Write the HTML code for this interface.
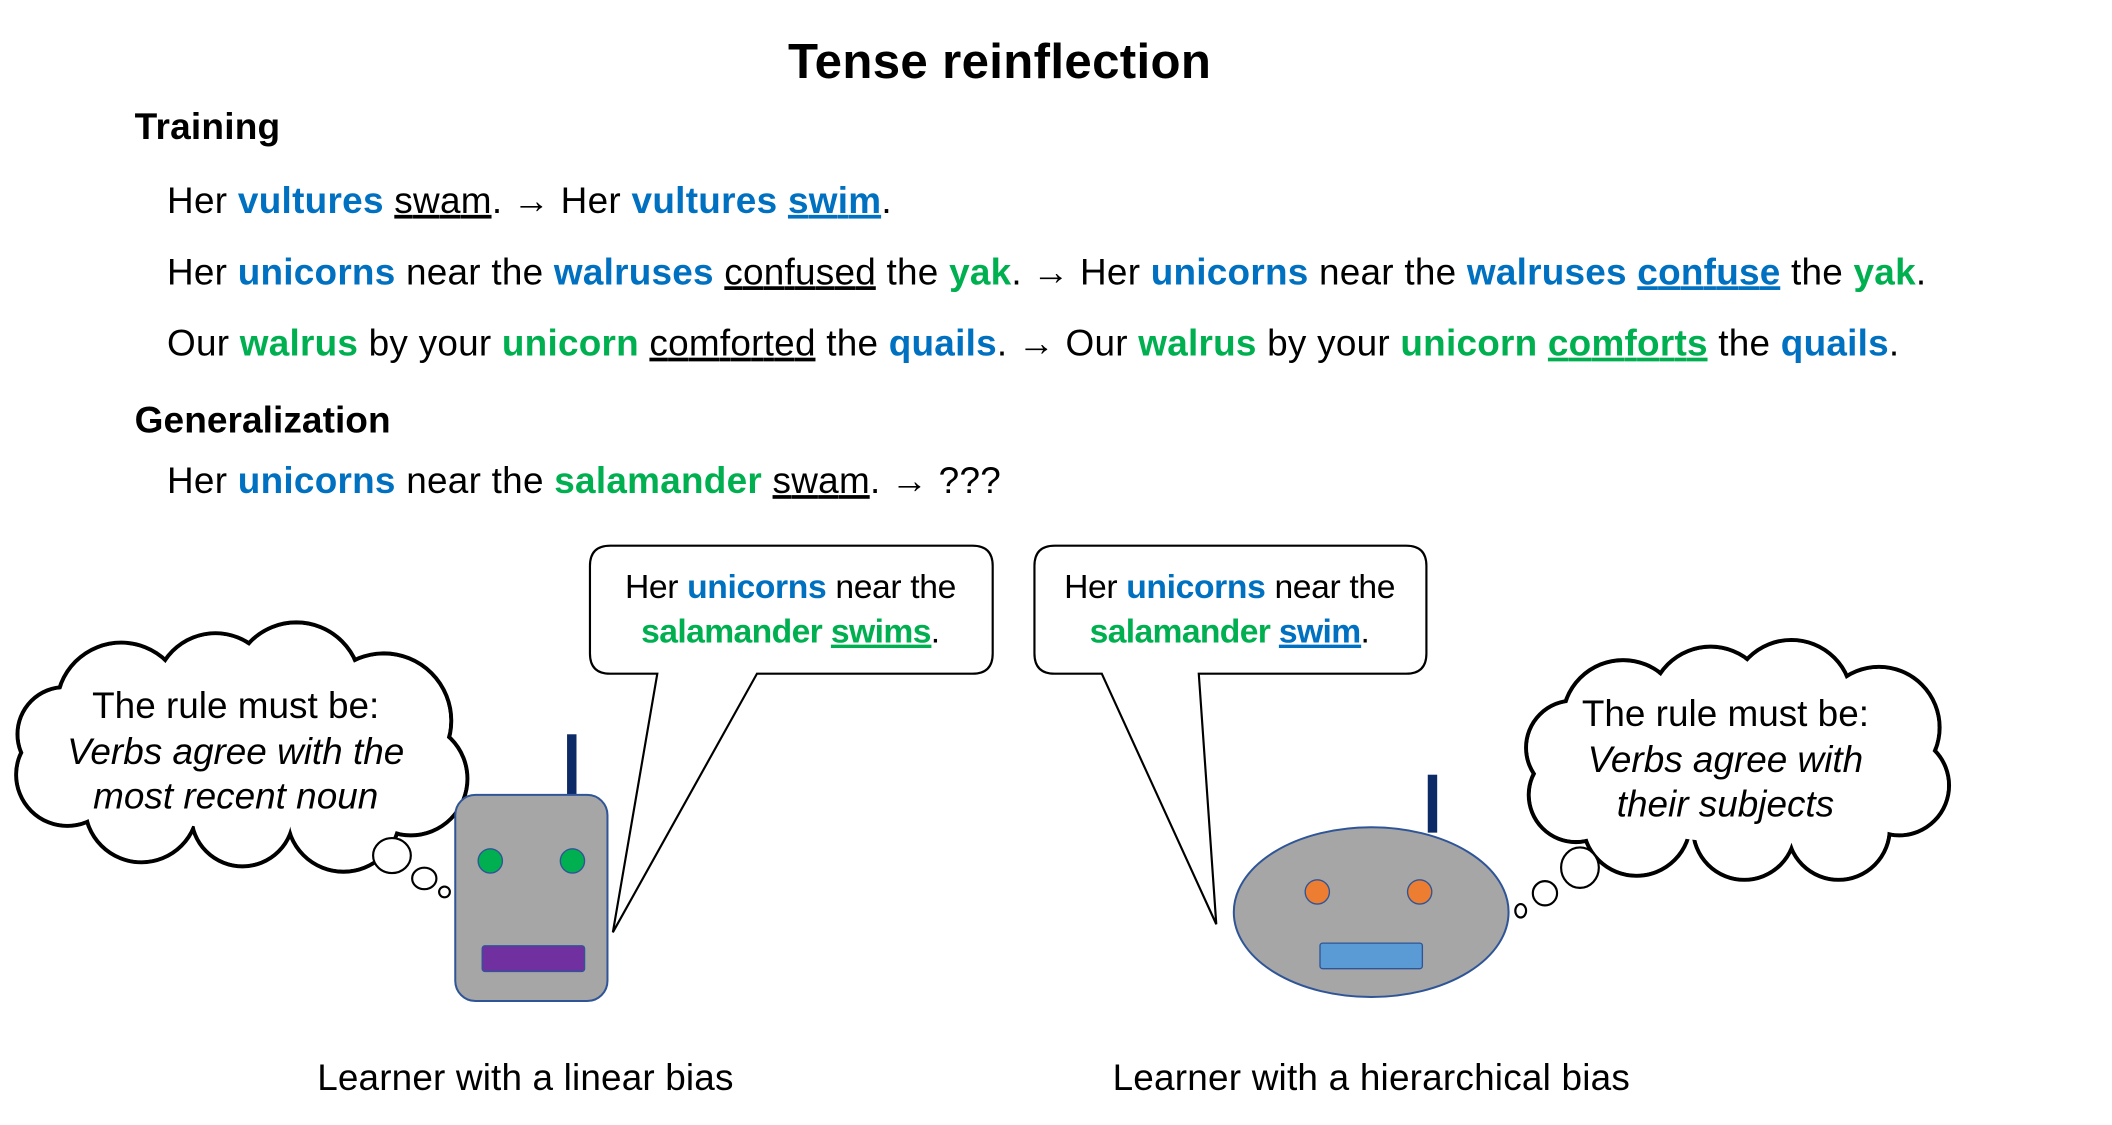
<!DOCTYPE html>
<html><head><meta charset="utf-8"><style>
html,body{margin:0;padding:0;background:#fff;}
svg{display:block;}
text{font-family:"Liberation Sans",Arial,sans-serif;}
.b{fill:#0070c0;font-weight:bold}
.g{fill:#00b050;font-weight:bold}
.u{text-decoration:underline}
</style></head><body>
<svg width="2112" height="1125" viewBox="0 0 1568 835" preserveAspectRatio="none" xmlns="http://www.w3.org/2000/svg">
<text x="742" y="58" font-size="36.5" font-weight="bold" text-anchor="middle" textLength="314">Tense reinflection</text>
<text x="100" y="103" font-size="27.5" font-weight="bold" textLength="108">Training</text>
<g font-size="27.4">
<text x="124" y="158" textLength="538">Her <tspan class="b">vultures</tspan> <tspan class="u">swam</tspan>. → Her <tspan class="b">vultures</tspan> <tspan class="b u">swim</tspan>.</text>
<text x="124" y="211" textLength="1306">Her <tspan class="b">unicorns</tspan> near the <tspan class="b">walruses</tspan> <tspan class="u">confused</tspan> the <tspan class="g">yak</tspan>. → Her <tspan class="b">unicorns</tspan> near the <tspan class="b">walruses</tspan> <tspan class="b u">confuse</tspan> the <tspan class="g">yak</tspan>.</text>
<text x="124" y="264" textLength="1286">Our <tspan class="g">walrus</tspan> by your <tspan class="g">unicorn</tspan> <tspan class="u">comforted</tspan> the <tspan class="b">quails</tspan>. → Our <tspan class="g">walrus</tspan> by your <tspan class="g">unicorn</tspan> <tspan class="g u">comforts</tspan> the <tspan class="b">quails</tspan>.</text>
</g>
<text x="100" y="321" font-size="27.5" font-weight="bold" textLength="190">Generalization</text>
<text x="124" y="366" font-size="27.4" textLength="619">Her <tspan class="b">unicorns</tspan> near the <tspan class="g">salamander</tspan> <tspan class="u">swam</tspan>. → ???</text>

<!-- speech bubbles -->
<g fill="#fff" stroke="#000" stroke-width="1.6">
<path d="M453,405 H722 Q737,405 737,420 V485 Q737,500 722,500 H562 L455,692 L488,500 H453 Q438,500 438,485 V420 Q438,405 453,405 Z"/>
<path d="M783,405 H1044 Q1059,405 1059,420 V485 Q1059,500 1044,500 H890 L903,686 L818,500 H783 Q768,500 768,485 V420 Q768,405 783,405 Z"/>
</g>
<g font-size="25">
<text x="587" y="444" text-anchor="middle" textLength="246">Her <tspan class="b">unicorns</tspan> near the</text>
<text x="587" y="477" text-anchor="middle" textLength="222"><tspan class="g">salamander</tspan> <tspan class="g u">swims</tspan>.</text>
<text x="913" y="444" text-anchor="middle" textLength="246">Her <tspan class="b">unicorns</tspan> near the</text>
<text x="913" y="477" text-anchor="middle" textLength="208"><tspan class="g">salamander</tspan> <tspan class="b u">swim</tspan>.</text>
</g>

<!-- left cloud -->
<g stroke="#000" stroke-width="3" fill="#fff">
<circle cx="90" cy="525" r="48"/><circle cx="160" cy="515" r="45"/><circle cx="220" cy="510" r="48"/><circle cx="285" cy="535" r="50"/><circle cx="305" cy="578" r="42"/><circle cx="255" cy="605" r="42"/><circle cx="180" cy="605" r="38"/><circle cx="105" cy="598" r="42"/><circle cx="50" cy="575" r="38"/><circle cx="48" cy="545" r="35"/>
</g>
<g fill="#fff">
<circle cx="90" cy="525" r="46.5"/><circle cx="160" cy="515" r="43.5"/><circle cx="220" cy="510" r="46.5"/><circle cx="285" cy="535" r="48.5"/><circle cx="305" cy="578" r="40.5"/><circle cx="255" cy="605" r="40.5"/><circle cx="180" cy="605" r="36.5"/><circle cx="105" cy="598" r="40.5"/><circle cx="50" cy="575" r="36.5"/><circle cx="48" cy="545" r="33.5"/><ellipse cx="175" cy="560" rx="120" ry="55"/>
</g>
<g fill="#fff" stroke="#000" stroke-width="1.6">
<ellipse cx="291" cy="635" rx="14" ry="13"/><ellipse cx="315" cy="652" rx="9" ry="8"/><ellipse cx="330" cy="662" rx="4" ry="4"/>
</g>
<g font-size="27.4" text-anchor="middle">
<text x="175" y="533">The rule must be:</text>
<text x="175" y="567" font-style="italic">Verbs agree with the</text>
<text x="175" y="600" font-style="italic">most recent noun</text>
</g>

<!-- right cloud -->
<g stroke="#000" stroke-width="3" fill="#fff">
<circle cx="1205" cy="535" r="45"/><circle cx="1270" cy="525" r="45"/><circle cx="1330" cy="520" r="45"/><circle cx="1395" cy="540" r="45"/><circle cx="1410" cy="583" r="37"/><circle cx="1365" cy="615" r="38"/><circle cx="1295" cy="615" r="38"/><circle cx="1215" cy="610" r="40"/><circle cx="1170" cy="590" r="35"/><circle cx="1168" cy="555" r="35"/>
</g>
<g fill="#fff">
<circle cx="1205" cy="535" r="43.5"/><circle cx="1270" cy="525" r="43.5"/><circle cx="1330" cy="520" r="43.5"/><circle cx="1395" cy="540" r="43.5"/><circle cx="1410" cy="583" r="35.5"/><circle cx="1365" cy="615" r="36.5"/><circle cx="1295" cy="615" r="36.5"/><circle cx="1215" cy="610" r="38.5"/><circle cx="1170" cy="590" r="33.5"/><circle cx="1168" cy="555" r="33.5"/><ellipse cx="1285" cy="570" rx="115" ry="55"/>
</g>
<g fill="#fff" stroke="#000" stroke-width="1.6">
<ellipse cx="1173" cy="644" rx="14" ry="15"/><ellipse cx="1147" cy="663" rx="9" ry="9"/><ellipse cx="1129" cy="676" rx="4" ry="5"/>
</g>
<g font-size="27.4" text-anchor="middle">
<text x="1281" y="539">The rule must be:</text>
<text x="1281" y="573" font-style="italic">Verbs agree with</text>
<text x="1281" y="606" font-style="italic">their subjects</text>
</g>

<!-- left robot -->
<rect x="421" y="545" width="7" height="47" fill="#0c2a66"/>
<rect x="338" y="590" width="113" height="153" rx="15" fill="#a6a6a6" stroke="#2f5597" stroke-width="1.5"/>
<ellipse cx="364" cy="639" rx="9" ry="9" fill="#00b050" stroke="#2f5597"/>
<ellipse cx="425" cy="639" rx="9" ry="9" fill="#00b050" stroke="#2f5597"/>
<rect x="358" y="702" width="76" height="19" rx="2" fill="#7030a0" stroke="#2f5597"/>

<!-- right robot -->
<rect x="1060" y="575" width="7" height="43" fill="#0c2a66"/>
<ellipse cx="1018" cy="677" rx="102" ry="63" fill="#a6a6a6" stroke="#2f5597" stroke-width="1.5"/>
<ellipse cx="978" cy="662" rx="9" ry="9" fill="#ed7d31" stroke="#2f5597"/>
<ellipse cx="1054" cy="662" rx="9" ry="9" fill="#ed7d31" stroke="#2f5597"/>
<rect x="980" y="700" width="76" height="19" rx="2" fill="#5b9bd5" stroke="#2f5597"/>

<text x="390" y="809" font-size="27.4" text-anchor="middle" textLength="309">Learner with a linear bias</text>
<text x="1018" y="809" font-size="27.4" text-anchor="middle" textLength="384">Learner with a hierarchical bias</text>
</svg>
</body></html>
